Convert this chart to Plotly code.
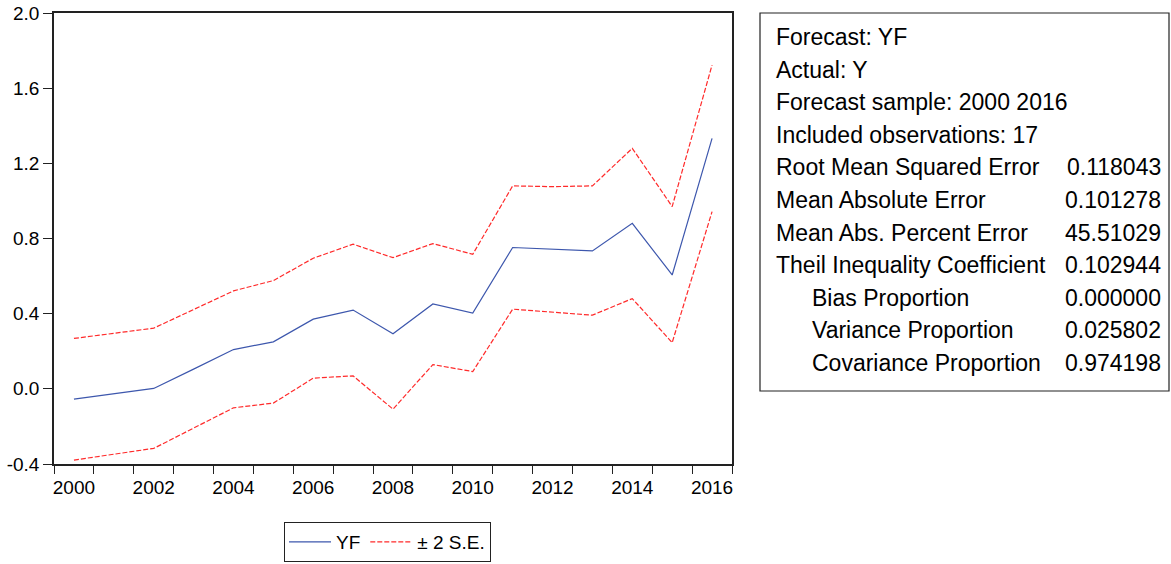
import plotly.graph_objects as go

years = list(range(2000, 2017))
yf = [-0.055, -0.027, 0.002, 0.105, 0.209, 0.250, 0.371, 0.419, 0.293,
      0.452, 0.403, 0.752, 0.743, 0.734, 0.881, 0.606, 1.333]
upper = [0.268, 0.296, 0.323, 0.422, 0.521, 0.576, 0.695, 0.770, 0.698,
         0.773, 0.716, 1.080, 1.076, 1.080, 1.280, 0.970, 1.723]
lower = [-0.379, -0.348, -0.317, -0.209, -0.101, -0.076, 0.057, 0.069, -0.108,
         0.129, 0.092, 0.424, 0.408, 0.392, 0.480, 0.246, 0.943]

y_ticks = [-0.4, 0.0, 0.4, 0.8, 1.2, 1.6, 2.0]
y_tick_text = ["-0.4", "0.0", "0.4", "0.8", "1.2", "1.6", "2.0"]
x_label_years = [2000, 2002, 2004, 2006, 2008, 2010, 2012, 2014, 2016]

stat_labels = ["Forecast: YF", "Actual: Y", "Forecast sample: 2000 2016",
               "Included observations: 17", "Root Mean Squared Error",
               "Mean Absolute Error", "Mean Abs. Percent Error",
               "Theil Inequality Coefficient", "Bias Proportion",
               "Variance Proportion", "Covariance Proportion"]
stat_values = ["", "", "", "", "0.118043", "0.101278", "45.51029",
               "0.102944", "0.000000", "0.025802", "0.974198"]
stat_indent = [False] * 8 + [True] * 3

W, H = 1171, 564
# plot area in page pixel coordinates
L, R, T, B = 54, 732, 13, 464
FONT = "Liberation Sans, Arial, sans-serif"

fig = go.Figure()
fig.add_trace(go.Scatter(x=years, y=yf, mode="lines", name="YF",
                         line=dict(color="#3d57ad", width=1.2)))
fig.add_trace(go.Scatter(x=years, y=upper, mode="lines", name="± 2 S.E.",
                         legendgroup="se",
                         line=dict(color="#ff2a2a", width=1.2, dash="5px,2px")))
fig.add_trace(go.Scatter(x=years, y=lower, mode="lines", name="± 2 S.E.",
                         legendgroup="se", showlegend=False,
                         line=dict(color="#ff2a2a", width=1.2, dash="5px,2px")))

def px2paper_x(px):
    return (px - L) / (R - L)

def px2paper_y(py):
    return (B - py) / (B - T)

# statistics box
fig.add_shape(type="rect", xref="paper", yref="paper",
              x0=px2paper_x(760), x1=px2paper_x(1169),
              y0=px2paper_y(391), y1=px2paper_y(13),
              line=dict(color="#222222", width=1.2), fillcolor="white")
for i, (lab, val, ind) in enumerate(zip(stat_labels, stat_values, stat_indent)):
    yc = 37 + 32.6 * i
    fig.add_annotation(xref="paper", yref="paper",
                       x=px2paper_x(810 if ind else 774), y=px2paper_y(yc),
                       xanchor="left", yanchor="middle", showarrow=False,
                       text=lab, font=dict(family=FONT, size=23, color="black"))
    if val:
        fig.add_annotation(xref="paper", yref="paper",
                           x=px2paper_x(1163), y=px2paper_y(yc),
                           xanchor="right", yanchor="middle", showarrow=False,
                           text=val, font=dict(family=FONT, size=23, color="black"))

fig.update_layout(
    width=W, height=H,
    margin=dict(l=L, r=W - R, t=T, b=H - B),
    paper_bgcolor="white", plot_bgcolor="white",
    font=dict(family=FONT, size=19, color="black"),
    showlegend=True,
    legend=dict(orientation="h", xref="container", yref="container",
                x=284 / W, y=(H - 562) / H,
                xanchor="left", yanchor="bottom",
                bordercolor="#222222", borderwidth=1,
                font=dict(family=FONT, size=19, color="black"),
                itemwidth=42, tracegroupgap=0),
    hovermode=False,
)
fig.update_xaxes(range=[1999.5, 2016.5], showgrid=False, zeroline=False,
                 automargin=False, ticklabeloverflow="allow",
                 showline=True, linecolor="#222222", linewidth=1.5, mirror=True,
                 tickvals=x_label_years, ticktext=[str(v) for v in x_label_years],
                 ticks="outside", ticklen=5, tickcolor="rgba(0,0,0,0)",
                 minor=dict(tick0=1999.5, dtick=1, ticks="outside", ticklen=8,
                            tickcolor="#222222", tickwidth=1.2, showgrid=False))
fig.update_yaxes(range=[-0.4, 2.0], showgrid=False, zeroline=False,
                 automargin=False, ticklabeloverflow="allow",
                 showline=True, linecolor="#222222", linewidth=1.5, mirror=True,
                 tickvals=y_ticks, ticktext=y_tick_text,
                 ticks="outside", ticklen=9, tickcolor="#222222", tickwidth=1.2)

fig.write_html("out.html",
               config={"displayModeBar": False},
               post_script="document.body.style.margin='0px';"
                           "document.body.style.overflow='hidden';")
